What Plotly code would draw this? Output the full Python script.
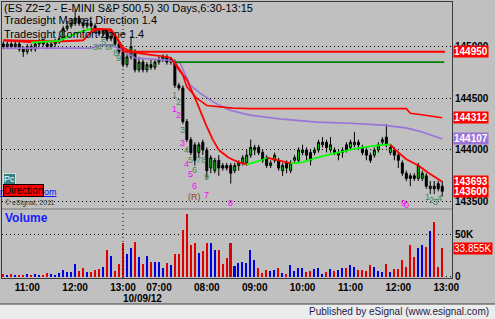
import plotly.graph_objects as go

# ---------------- data ----------------
tick_index = [6, 18, 30, 39, 51, 63, 75, 87, 99, 111]
tick_text = ["11:00", "12:00", "13:00", "07:00", "08:00", "09:00", "10:00", "11:00", "12:00", "13:00"]
price_ticks = [143500, 144000, 144500, 145000]
volume_ticks = [0, 50]
volume_tick_text = ["0", "50K"]
date_label = "10/09/12"
day_line_index = 30

opens = [
    145025, 145000, 145025, 145000, 145025, 144975, 144950, 145000, 144975, 145025,
    145050, 145025, 145000, 145025, 145050, 145075, 145175, 145200, 145225, 145275,
    145225, 145200, 145225, 145200, 145150, 145125, 145150, 145075, 145100, 145025,
    144950, 144825, 144900,
    144950, 144775, 144850, 144775, 144825, 144800, 144850,
    144875, 144900, 144850, 144850, 144625, 144600, 144275, 144100, 144050, 143975,
    144075, 144000, 143825, 143800, 143900, 143850, 143850, 143850, 143800, 143850,
    143875, 143875, 143950, 144000, 144025, 143975, 143925, 143850, 143900, 143900,
    143800, 143875, 143800, 143900, 143900, 143975, 144000, 143975, 143975, 144000,
    144050, 144075, 144000, 144000, 143950, 143975, 144050, 144025, 144050, 144075,
    144025, 144000, 143950, 143950, 144000, 144075, 144125, 143975, 144000, 143950,
    143875, 143775, 143750, 143750, 143725, 143725, 143750, 143625, 143650, 143675,
    143650]
highs = [
    145050, 145050, 145050, 145050, 145050, 145000, 145025, 145025, 145050, 145075,
    145075, 145050, 145050, 145075, 145100, 145200, 145250, 145275, 145350, 145300,
    145275, 145250, 145250, 145225, 145175, 145175, 145175, 145150, 145125, 145050,
    144975, 144925, 145100,
    144975, 144900, 144875, 144850, 144875, 144875, 144900,
    144925, 144925, 144900, 144875, 144650, 144625, 144300, 144125, 144075, 144075,
    144100, 144025, 143950, 143925, 143950, 143875, 143875, 143875, 143875, 143900,
    143950, 144000, 144100, 144050, 144050, 144000, 143950, 143900, 143975, 143925,
    143875, 143900, 143900, 143950, 144025, 144050, 144025, 144000, 144025, 144100,
    144125, 144100, 144125, 144025, 144000, 144025, 144075, 144100, 144175, 144100,
    144050, 144025, 143975, 144025, 144075, 144125, 144250, 144050, 144025, 143975,
    143900, 143800, 143775, 143775, 143875, 143800, 143775, 143700, 143700, 143700,
    143700]
lows = [
    144975, 144975, 144975, 144975, 144950, 144900, 144925, 144950, 144950, 145000,
    145000, 144975, 144975, 145000, 145025, 145050, 145150, 145175, 145200, 145200,
    145175, 145175, 145150, 145125, 145100, 145100, 145050, 145050, 145000, 144925,
    144800, 144800, 144875,
    144750, 144750, 144750, 144750, 144775, 144775, 144825,
    144850, 144825, 144825, 144600, 144575, 144250, 144075, 143950, 143850, 143925,
    143950, 143725, 143775, 143775, 143750, 143800, 143800, 143675, 143775, 143800,
    143850, 143850, 143925, 143950, 143950, 143875, 143825, 143825, 143875, 143800,
    143750, 143775, 143775, 143875, 143875, 143950, 143900, 143850, 143950, 143975,
    144025, 143975, 143975, 143950, 143900, 143925, 143975, 144000, 144025, 144000,
    143950, 143900, 143875, 143925, 143975, 144050, 144025, 143950, 143900, 143825,
    143750, 143700, 143650, 143700, 143700, 143700, 143625, 143575, 143575, 143600,
    143550]
closes = [
    145000, 145025, 145000, 145025, 144975, 144950, 145000, 144975, 145025, 145050,
    145025, 145000, 145025, 145050, 145075, 145175, 145200, 145225, 145275, 145225,
    145200, 145225, 145200, 145150, 145125, 145150, 145075, 145100, 145025, 144950,
    144825, 144900, 145000,
    144775, 144850, 144775, 144825, 144800, 144850, 144875,
    144900, 144850, 144875, 144625, 144600, 144275, 144100, 143975, 143900, 144050,
    144000, 143800, 143925, 143900, 143825, 143825, 143825, 143775, 143850, 143875,
    143925, 143950, 144025, 144025, 143975, 143900, 143850, 143875, 143950, 143825,
    143850, 143825, 143875, 143925, 144000, 144000, 143950, 143900, 144000, 144075,
    144075, 144025, 144050, 143975, 143975, 144000, 144000, 144075, 144075, 144050,
    143975, 143950, 143900, 144000, 144050, 144100, 144050, 144025, 143950, 143900,
    143775, 143725, 143725, 143725, 143850, 143775, 143650, 143650, 143625, 143625,
    143600]
volume_k = [
    3.5, 2.3, 3.5, 2.0, 2.0, 2.0, 3.5, 2.8, 3.1, 2.3,
    1.6, 5.1, 3.5, 2.8, 4.3, 8.2, 6.2, 5.5, 15.2, 7.4,
    10.1, 6.2, 6.2, 8.2, 9.0, 12.1, 31.6, 24.6, 7.4, 15.2,
    39.4, 26.6, 33.6,
    41.4, 23.8, 15.2, 24.6, 17.8, 17.8, 17.8,
    10.9, 16.8, 14.0, 27.0, 27.0, 55.1, 73.8, 37.5, 40.2, 27.8,
    30.9, 39.4, 39.4, 31.6, 31.6, 15.2, 21.9, 40.2, 12.9, 16.8,
    17.6, 16.8, 31.6, 19.9, 10.1, 5.1, 8.2, 7.0, 8.2, 10.9,
    4.3, 3.5, 14.0, 7.0, 10.1, 10.1, 6.2, 7.0, 9.4, 10.1,
    3.5, 6.2, 9.0, 7.4, 8.2, 10.1, 10.1, 13.7, 12.1, 8.2,
    8.2, 7.0, 13.7, 12.1, 7.4, 6.2, 14.8, 6.2, 9.0, 9.4,
    19.9, 12.1, 37.5, 23.0, 33.6, 37.5, 35.5, 53.9, 64.4, 11.3,
    33.855]

# indicator lines (bar index, price)
fast_x = [0, 4, 7, 10, 14, 16, 19, 22, 25, 27, 28.5, 30, 32, 36, 40, 42, 44, 46, 48.5, 51,
          52.5, 54, 56.5, 59, 61, 62, 65, 66, 69, 72, 75, 78, 81, 85, 88, 91, 95, 97,
          98, 101, 104, 106.5, 110]
fast_y = [145060, 145050, 145040, 145045, 145055, 145090, 145140, 145170, 145165, 145150,
          145080, 144990, 144950, 144925, 144905, 144890, 144775, 144680, 144460, 144225,
          144100, 144000, 143925, 143880, 143860, 143870, 143905, 143925, 143900, 143870,
          143880, 143920, 143950, 143985, 144010, 144030, 144050, 144055,
          144010, 143910, 143850, 143780, 143693]
band_x = [0, 14, 20, 22, 24, 27, 28.5, 30, 31, 110.7]
band_y = [145060, 145050, 145060, 145140, 145170, 145165, 145080, 144960, 144950, 144950]
slow_x = [42, 43.5, 44.8, 46, 48.5, 51, 57.5, 62, 101, 102, 104, 107, 110]
slow_y = [144890, 144820, 144745, 144610, 144500, 144430, 144405, 144400, 144400, 144355,
          144345, 144325, 144312]
vwap_x = [0, 22, 24, 27, 30, 33, 41, 44.3, 46.8, 49.3, 53.1, 56.8, 61.8, 70, 78.6, 86.9,
          95.2, 101.2, 105.2, 110]
vwap_y = [144985, 144985, 145010, 145015, 144960, 144890, 144870, 144842, 144628, 144550,
          144453, 144385, 144337, 144298, 144269, 144259, 144240, 144211, 144172, 144107]
green_level_x = [42.5, 110.5]
green_level_y = [144850, 144850]

# TD-style count labels (bar index, price, text, colour key)
count_labels = [
    (23, 144996, "3", "g"), (24.2, 144996, "4", "g"), (25, 145044, "5", "g"),
    (26, 144996, "6", "g"), (27.2, 144996, "7", "g"), (28, 144938, "8", "g"),
    (28.8, 144890, "9", "g"),
    (43, 144532, "1", "g"), (44, 144464, "2", "g"), (45, 144193, "3", "g"),
    (46, 144000, "4", "g"), (47, 143903, "5", "g"), (48, 143807, "6", "g"),
    (49, 143903, "7", "g"), (50.2, 143903, "8", "g"), (51, 143739, "9", "g"),
    (42.8, 144396, "1", "m"), (44, 144338, "2", "m"), (45, 144068, "3", "m"),
    (46, 143865, "4", "m"), (47, 143768, "5", "m"), (48, 143652, "6", "m"),
    (51, 143565, "7", "m"), (57, 143487, "8", "m"), (48, 143546, "(R)", "r"),
    (100.2, 143487, "9", "m"), (101, 143468, "0", "m"),
    (106.2, 143546, "1", "g"), (107.4, 143516, "2", "g"), (108.4, 143497, "3", "g"),
    (109.2, 143536, "4", "g"),
]

# ---------------- styling ----------------
BG = "#c0c0c0"
RED = "#ff0000"
LIME = "#00ff00"
PURPLE = "#9a72d8"
DKGREEN = "#008000"
FRAME = "#3a3a3a"
FONT = "Arial"
x = list(range(len(closes)))

fig = go.Figure()

fig.add_trace(go.Candlestick(
    x=x, open=opens, high=highs, low=lows, close=closes,
    xaxis="x2", yaxis="y2",
    increasing=dict(line=dict(color="#000000", width=1), fillcolor="#00d800"),
    decreasing=dict(line=dict(color="#000000", width=1), fillcolor="#000000"),
    whiskerwidth=0, showlegend=False, hoverinfo="skip"))


def segments(xs, ys):
    gx, gy, rx, ry = [], [], [], []
    for k in range(len(xs) - 1):
        if ys[k + 1] > ys[k]:
            gx += [xs[k], xs[k + 1], None]
            gy += [ys[k], ys[k + 1], None]
        else:
            rx += [xs[k], xs[k + 1], None]
            ry += [ys[k], ys[k + 1], None]
    return gx, gy, rx, ry


def line(xs, ys, color, width):
    fig.add_trace(go.Scatter(x=xs, y=ys, mode="lines", xaxis="x2", yaxis="y2",
                             line=dict(color=color, width=width), showlegend=False,
                             hoverinfo="skip", connectgaps=False))


line(vwap_x, vwap_y, PURPLE, 1.6)
line(green_level_x, green_level_y, DKGREEN, 1.6)
line(band_x, band_y, RED, 2)
line(slow_x, slow_y, RED, 1.6)
gx, gy, rx, ry = segments(fast_x, fast_y)
line(rx, ry, RED, 1.8)
line(gx, gy, LIME, 1.8)

vol_colors = ["#0000e0" if c >= o else "#e00000" for o, c in zip(opens, closes)]
fig.add_trace(go.Bar(x=x, y=volume_k, marker=dict(color=vol_colors, line=dict(width=0)),
                     width=0.38, showlegend=False, hoverinfo="skip"))

# ---------------- layout ----------------
PX_L, PX_R, PX_T, PX_B = 2, 452, 2, 278
W = PX_R - PX_L
H = PX_B - PX_T


def px_x(p):
    return (p - PX_L) / W


def px_y(p):
    return (PX_B - p) / H


dot = "1px,3px"
axis_common = dict(showline=True, mirror=True, linecolor=FRAME, linewidth=1, zeroline=False,
                   fixedrange=True)
tick_font = dict(family=FONT, size=10, color="#000000", weight="bold")

fig.update_layout(
    width=495, height=319,
    margin=dict(l=PX_L, r=495 - PX_R, t=PX_T, b=319 - PX_B),
    paper_bgcolor=BG, plot_bgcolor=BG,
    bargap=0, showlegend=False,
    xaxis=dict(domain=[0, 1], anchor="y", range=[-0.33, 112.45], tickvals=tick_index,
               ticktext=tick_text, showgrid=False, ticks="", rangeslider=dict(visible=False),
               tickfont=tick_font, **axis_common),
    yaxis=dict(domain=[0, px_y(210)], anchor="x", side="right", range=[-1.2, 78.4],
               tickvals=volume_ticks, ticktext=volume_tick_text, showgrid=True,
               gridcolor="#000000", griddash=dot, gridwidth=1, ticks="",
               tickfont=tick_font, **axis_common),
    xaxis2=dict(domain=[0, 1], anchor="y2", matches="x", showticklabels=False,
                showgrid=False, ticks="", rangeslider=dict(visible=False), **axis_common),
    yaxis2=dict(domain=[px_y(208), 1], anchor="x2", side="right", range=[143439, 145431],
                tickvals=price_ticks, ticktext=[str(v) for v in price_ticks], showgrid=True,
                gridcolor="#000000", griddash=dot, gridwidth=1, ticks="",
                tickfont=tick_font, **axis_common),
)

shapes = [
    dict(type="line", xref="x", yref="paper", x0=day_line_index, x1=day_line_index,
         y0=0, y1=1, line=dict(color="#000000", width=1, dash=dot), layer="above"),
    dict(type="line", xref="paper", yref="paper", x0=0, x1=1, y0=px_y(209), y1=px_y(209),
         line=dict(color="#ffffff", width=1)),
    dict(type="rect", xref="paper", yref="paper", x0=-0.02, x1=1.12,
         y0=px_y(322), y1=px_y(304), fillcolor="#ececec",
         line=dict(color="#404040", width=1), layer="above"),
]
fig.update_layout(shapes=shapes)

ann = []
title_lines = [("(ES Z2=2 - E-MINI S&P 500,5) 30 Days,6:30-13:15", 8),
               ("Tradesight Market Direction 1.4", 20),
               ("Tradesight Comfort Zone 1.4", 34)]
for txt, py in title_lines:
    ann.append(dict(text=txt, xref="paper", yref="paper", x=px_x(2), y=px_y(py),
                    xanchor="left", yanchor="middle", showarrow=False,
                    font=dict(family=FONT, size=11, color="#000000")))

count_colors = {"g": "#3d8a5a", "m": "#ff00ff", "r": "#8b4a1a"}
for cx, cy, txt, ck in count_labels:
    ann.append(dict(text=txt, xref="x2", yref="y2", x=cx, y=cy, showarrow=False,
                    xanchor="center", yanchor="middle",
                    font=dict(family=FONT, size=9, color=count_colors[ck])))

ann += [
    dict(text="<u>www.tradesight.com</u>", xref="paper", yref="paper", x=px_x(59),
         y=px_y(192), xanchor="right", yanchor="middle", showarrow=False,
         font=dict(family=FONT, size=9, color="#0000ff")),
    dict(text="Pc", xref="paper", yref="paper", x=px_x(3), y=px_y(178.5), xanchor="left",
         yanchor="middle", showarrow=False, bgcolor="#3a7f7f", bordercolor="#d0e0e0",
         borderwidth=1, borderpad=0, font=dict(family=FONT, size=9, color="#ffffff")),
    dict(text="Direction", xref="paper", yref="paper", x=px_x(3), y=px_y(190.5),
         xanchor="left", yanchor="middle", showarrow=False, bgcolor="#ff0000",
         bordercolor="#000000", borderwidth=1, borderpad=0,
         font=dict(family=FONT, size=10, color="#000000")),
    dict(text="© eSignal, 2011", xref="paper", yref="paper", x=px_x(3), y=px_y(203),
         xanchor="left", yanchor="middle", showarrow=False,
         font=dict(family=FONT, size=7, color="#303030")),
    dict(text="<b>Volume</b>", xref="paper", yref="paper", x=px_x(3), y=px_y(218),
         xanchor="left", yanchor="middle", showarrow=False,
         font=dict(family=FONT, size=12, color="#1a1aff")),
    dict(text="<b>%s</b>" % date_label, xref="x", yref="paper", x=34.9, y=px_y(298),
         xanchor="center", yanchor="middle", showarrow=False,
         font=dict(family=FONT, size=10, color="#000000")),
    dict(text="Published by eSignal (www.esignal.com)", xref="paper", yref="paper",
         x=px_x(491), y=px_y(311.5), xanchor="right", yanchor="middle", showarrow=False,
         font=dict(family=FONT, size=10, color="#1c1c48")),
]

value_labels = [
    (band_y[-1], RED), (slow_y[-1], RED), (vwap_y[-1], PURPLE),
    (fast_y[-1], RED), (closes[-1], RED),
]
for v, col in value_labels:
    ann.append(dict(text="<b>%d</b>" % v, xref="paper", yref="y2", x=1, y=v, xanchor="left",
                    yanchor="middle", xshift=1, showarrow=False, bgcolor=col, borderpad=0,
                    font=dict(family=FONT, size=10, color="#ffffff")))
ann.append(dict(text="%.3fK" % volume_k[-1], xref="paper", yref="y", x=1, y=volume_k[-1],
                xanchor="left", yanchor="middle", xshift=1, showarrow=False, bgcolor=RED,
                borderpad=0, font=dict(family=FONT, size=10, color="#ffffff")))

fig.update_layout(annotations=ann)
fig.write_html("out.html")
